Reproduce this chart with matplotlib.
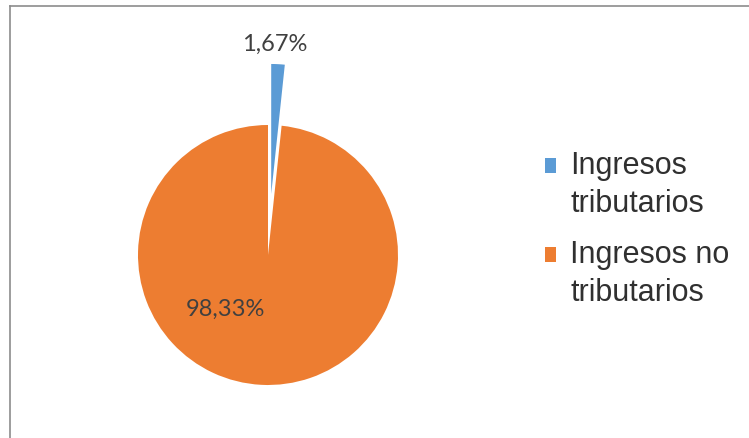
import matplotlib.pyplot as plt
from matplotlib.lines import Line2D
from matplotlib.patches import Rectangle
from matplotlib.legend_handler import HandlerPatch

# data
categorias = ["Ingresos\ntributarios", "Ingresos no\ntributarios"]
porcentajes = [1.67, 98.33]
colores = ["#5B9BD5", "#ED7D31"]
separacion = [0.47, 0.0]

W, H = 749, 439
fig = plt.figure(figsize=(W / 100, H / 100), dpi=100)
fig.patch.set_facecolor("white")

# pie centre (268, 256) px, radius 130 px
cx, cy, r = 268, H - 256, 130
half = 1.6 * r
ax = fig.add_axes([(cx - half) / W, (cy - half) / H, 2 * half / W, 2 * half / H])

wedges, textos, autotextos = ax.pie(
    porcentajes,
    colors=colores,
    explode=separacion,
    startangle=90,
    counterclock=False,
    autopct=lambda p: f"{p:.2f}%".replace(".", ","),
    wedgeprops=dict(linewidth=0),
    textprops=dict(color="#404040", fontsize=17, family="Lato"),
)
ax.set_xlim(-1.6, 1.6)
ax.set_ylim(-1.6, 1.6)
ax.set_aspect("auto")
ax.axis("off")

autotextos[0].set_position((0.054, 1.63))
autotextos[1].set_position((-0.33, -0.41))


# legend square sits on the first line of the label, like Excel does
def cuadro_arriba(legend, orig_handle, xdescent, ydescent, width, height, fontsize):
    return Rectangle((-xdescent, -ydescent + 0.62 * fontsize), width, height)


leg = fig.legend(
    wedges, categorias,
    loc="upper left",
    bbox_to_anchor=(545 / W, 1 - 151 / H),
    frameon=False,
    prop=dict(family="Liberation Sans", size=22),
    handlelength=0.37,
    handleheight=0.37,
    handletextpad=0.45,
    labelspacing=0.68,
    borderpad=0,
    borderaxespad=0,
    handler_map={w: HandlerPatch(patch_func=cuadro_arriba) for w in wedges},
)
for t in leg.get_texts():
    t.set_color("#303030")
    t.set_linespacing(1.35)

# chart border
fig.add_artist(Line2D([10 / W, 1], [1 - 6.5 / H, 1 - 6.5 / H], color="#8c8c8c", lw=1.2))
fig.add_artist(Line2D([10 / W, 10 / W], [0, 1 - 6.5 / H], color="#8c8c8c", lw=1.2))

fig.savefig("out.png", dpi=100)
